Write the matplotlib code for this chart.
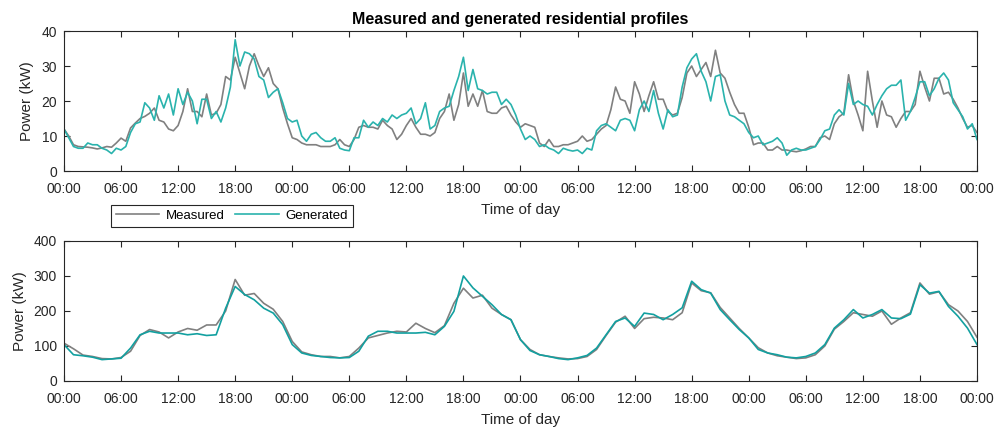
import numpy as np
import matplotlib
matplotlib.use("Agg")
import matplotlib.pyplot as plt

plt.rcParams['font.family'] = ['Liberation Sans', 'DejaVu Sans']

# top panel: single residence, half-hourly samples over 4 days (kW)
res_measured = [
    12, 10, 7.5, 7, 6.9, 6.8, 6.6, 6.3, 6.6, 7,
    6.8, 8, 9.4, 8.5, 12.3, 13.7, 15, 15.6, 16.5, 18,
    14.5, 14, 12, 11.5, 13, 17, 23.5, 17, 17, 15.5,
    22, 16, 16.5, 19, 27, 26, 32.5, 28, 23.5, 30,
    33.5, 30, 27, 29.5, 25, 23.5, 18, 13.5, 9.5,
    9, 8, 7.5, 7.5, 7.5, 7, 7, 7, 7.5, 9,
    7.5, 7, 9, 12.5, 13, 12.5, 12.5, 12, 14.5, 13,
    12, 9, 10.5, 13, 15, 12.5, 10.5, 10.5, 10, 11,
    15, 17, 22, 14.5, 19, 28, 18.5, 22, 18.5, 23,
    17, 16.5, 16.5, 18, 18.5, 16, 14, 12.5,
    13.5, 13, 12.5, 8, 7, 9, 7, 7, 7.5, 7.5,
    8, 8.5, 10, 8.5, 9, 10.5, 12, 13, 17.5, 24,
    20.5, 20, 16.5, 25.5, 22, 17, 21.5, 25.5, 20.5, 20.5,
    17, 16, 16.5, 21, 28, 30, 27, 29, 31, 27,
    34.5, 28, 26.5, 22.5, 19, 16.5, 16.5, 12.5,
    7.5, 8, 8, 6, 6, 7, 6, 6, 5.7, 5.5,
    5.8, 6.3, 7, 7, 9.5, 10, 9, 13.5, 15.5, 16.5,
    27.5, 20, 16, 11.5, 28.5, 20, 12.5, 20, 16, 15.5,
    12.5, 15, 17, 17, 19, 28.5, 24, 20, 26.5, 26.5,
    22, 22.5, 20.5, 18, 15, 12.5, 13, 11,
]
res_generated = [
    12, 9.5, 7, 6.5, 6.5, 8, 7.5, 7.5, 6.5, 6,
    5, 6.5, 6, 7, 11, 13.5, 14, 19.5, 18, 14.5,
    21.5, 18, 22, 16, 23.5, 19, 22.5, 20, 13.5, 20.5,
    20.5, 15, 17, 14, 18, 24, 37.5, 30, 34, 33.5,
    32, 27, 26, 21, 22.5, 23.5, 19.5, 15, 14,
    14.5, 10, 8.5, 10.5, 11, 9.5, 8.5, 8.5, 9.5, 6.5,
    6, 5.8, 9.5, 9.5, 14.5, 12.5, 14, 13, 15, 14,
    16, 15, 16, 16.5, 18, 13.5, 15, 19.5, 12, 13,
    17, 18, 18.5, 23, 27, 32.5, 23, 29, 23.5, 23,
    22, 22.5, 22.5, 19, 20.5, 19, 16, 12,
    9, 10, 9, 7, 7.5, 6.5, 6, 5, 6.5, 6,
    5.7, 6, 5, 6.5, 6, 11.5, 13, 13.5, 12.5, 11.5,
    14.5, 15, 14.5, 11.5, 17.5, 20, 17, 23, 16.5, 12,
    17.5, 15.5, 16, 24, 29.5, 32, 33.5, 28.5, 25.5, 20,
    27, 27.5, 20, 16, 15.5, 14.5, 13.5, 11,
    9.5, 10, 7.5, 8, 8.5, 9.5, 8, 4.5, 6, 6.5,
    6, 6, 6.5, 7, 9, 11.5, 12, 16, 17.5, 16,
    25, 19, 20, 19, 18.5, 16, 19, 21.5, 23.5, 24.5,
    24.5, 26, 14.5, 17, 21, 25.5, 25.5, 21.5, 23.5, 26.5,
    28, 26, 19.5, 17.5, 15.5, 12, 13.5, 9,
]

# bottom panel: aggregated residences, hourly samples over 4 days (kW)
agg_measured = [
    108, 92, 74, 70, 64, 63, 67, 85, 130, 147, 140, 123, 140, 150, 145, 160, 160, 200, 290, 245, 250, 222, 205, 170, 113,
    83, 75, 70, 70, 66, 70, 94, 123, 130, 137, 142, 140, 165, 150, 138, 158, 222, 265, 237, 245, 208, 190, 175, 118,
    90, 75, 70, 66, 63, 64, 70, 90, 130, 168, 185, 150, 178, 182, 180, 175, 195, 280, 258, 252, 210, 180, 150, 123,
    95, 80, 72, 68, 64, 66, 75, 100, 148, 170, 195, 190, 185, 200, 162, 180, 195, 280, 248, 255, 218, 200, 170, 125,
]
agg_generated = [
    104, 75, 72, 68, 61, 63, 65, 94, 132, 142, 137, 137, 137, 132, 135, 130, 132, 208, 270, 247, 232, 208, 194, 161, 104,
    80, 73, 70, 67, 66, 67, 85, 128, 142, 142, 137, 137, 137, 139, 132, 156, 199, 300, 266, 242, 218, 190, 175, 118,
    87, 75, 70, 64, 61, 66, 73, 94, 132, 170, 180, 156, 194, 190, 175, 190, 209, 285, 261, 251, 204, 175, 147, 123,
    90, 80, 75, 68, 66, 70, 80, 104, 151, 175, 204, 180, 190, 204, 180, 178, 191, 275, 251, 256, 213, 185, 151, 104,
]

t_top = np.arange(len(res_measured)) * 0.5
t_bot = np.arange(len(agg_measured)) * 1.0

tick_hours = list(range(0, 97, 6))
tick_labels = ['00:00', '06:00', '12:00', '18:00'] * 4 + ['00:00']

grey = '#808080'
axcol = '#262626'

fig = plt.figure(figsize=(9.95, 4.3), dpi=100)
ax1 = fig.add_axes([0.0643, 0.6023, 0.9176, 0.3256])
ax2 = fig.add_axes([0.0643, 0.114, 0.9176, 0.3256])

l1, = ax1.plot(t_top, res_measured, color=grey, lw=1.2, label='Measured')
l2, = ax1.plot(t_top, res_generated, color='#2ab3ad', lw=1.2, label='Generated')
ax2.plot(t_bot, agg_measured, color=grey, lw=1.2)
ax2.plot(t_bot, agg_generated, color='#12a0a0', lw=1.2)

ax1.set_ylim(0, 40)
ax1.set_yticks([0, 10, 20, 30, 40])
ax2.set_ylim(0, 400)
ax2.set_yticks([0, 100, 200, 300, 400])

for ax in (ax1, ax2):
    ax.set_xlim(0, 96)
    ax.set_xticks(tick_hours)
    ax.set_xticklabels(tick_labels)
    ax.tick_params(direction='in', top=True, right=True, length=4.5, width=0.8,
                   colors=axcol, labelsize=10)
    ax.tick_params(axis='x', pad=8)
    ax.tick_params(axis='y', pad=5)
    for s in ax.spines.values():
        s.set_color(axcol)
        s.set_linewidth(0.8)
    ax.set_xlabel('Time of day', fontsize=11, color=axcol, labelpad=5)
    ax.set_ylabel('Power (kW)', fontsize=11, color=axcol, labelpad=5)

ax1.set_title('Measured and generated residential profiles', fontsize=11.5,
              fontweight='bold', pad=5)

leg = fig.legend([l1, l2], ['Measured', 'Generated'], loc='center',
                 bbox_to_anchor=(0.233, 0.498), ncol=2, fontsize=9.5,
                 fancybox=False, edgecolor=axcol, framealpha=1,
                 handlelength=3.3, columnspacing=0.8, borderpad=0.35,
                 handletextpad=0.5)
leg.get_frame().set_linewidth(0.8)

fig.savefig('out.png', dpi=100)
